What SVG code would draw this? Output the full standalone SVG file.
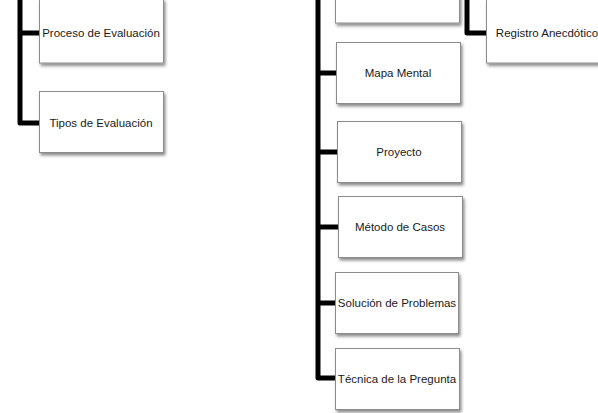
<svg xmlns="http://www.w3.org/2000/svg" width="598" height="413" viewBox="0 0 598 413">
<defs>
<filter id="sh" x="-10%" y="-10%" width="130%" height="140%">
<feDropShadow dx="1.5" dy="2.5" stdDeviation="1.5" flood-color="#000" flood-opacity="0.45"/>
</filter>
</defs>
<style>
.box{fill:#fff;stroke:#8c8c8c;stroke-width:1;filter:url(#sh)}
.lbl{font-family:"Liberation Sans",Arial,sans-serif;font-size:11.5px;fill:#1a1a1a;text-anchor:middle;dominant-baseline:central}
.conn{fill:none;stroke:#000;stroke-width:5;stroke-linejoin:round}
</style>
<rect width="598" height="413" fill="#fff"/>
<g id="connectors">
<path class="conn" d="M20,-5 V123 H40"/>
<path class="conn" d="M20,33 H40"/>
<path class="conn" d="M318,-5 V378 H336"/>
<path class="conn" d="M318,73 H337"/>
<path class="conn" d="M318,152 H338"/>
<path class="conn" d="M318,227 H339"/>
<path class="conn" d="M318,303 H336"/>
<path class="conn" d="M467,-5 V33 H487"/>
</g>
<g id="proceso"><rect class="box" x="39.5" y="-1" width="124" height="64"/><text class="lbl" x="101" y="33">Proceso de Evaluación</text></g>
<g id="tipos"><rect class="box" x="39.5" y="91.5" width="124" height="61"/><text class="lbl" x="101" y="123">Tipos de Evaluación</text></g>
<g id="top-right-box"><rect class="box" x="335.5" y="-40" width="124" height="63"/></g>
<g id="registro"><rect class="box" x="486.5" y="-1" width="126" height="64"/><text class="lbl" x="547" y="33">Registro Anecdótico</text></g>
<g id="mapa"><rect class="box" x="336.5" y="42.5" width="124" height="61"/><text class="lbl" x="398" y="73">Mapa Mental</text></g>
<g id="proyecto"><rect class="box" x="337.5" y="121.5" width="124" height="61"/><text class="lbl" x="399" y="152">Proyecto</text></g>
<g id="metodo"><rect class="box" x="338.5" y="196.5" width="124" height="61"/><text class="lbl" x="400" y="227">Método de Casos</text></g>
<g id="solucion"><rect class="box" x="335.5" y="272.5" width="123" height="61"/><text class="lbl" x="397" y="303">Solución de Problemas</text></g>
<g id="tecnica"><rect class="box" x="335.5" y="348.5" width="124" height="61"/><text class="lbl" x="397" y="379">Técnica de la Pregunta</text></g>
</svg>
